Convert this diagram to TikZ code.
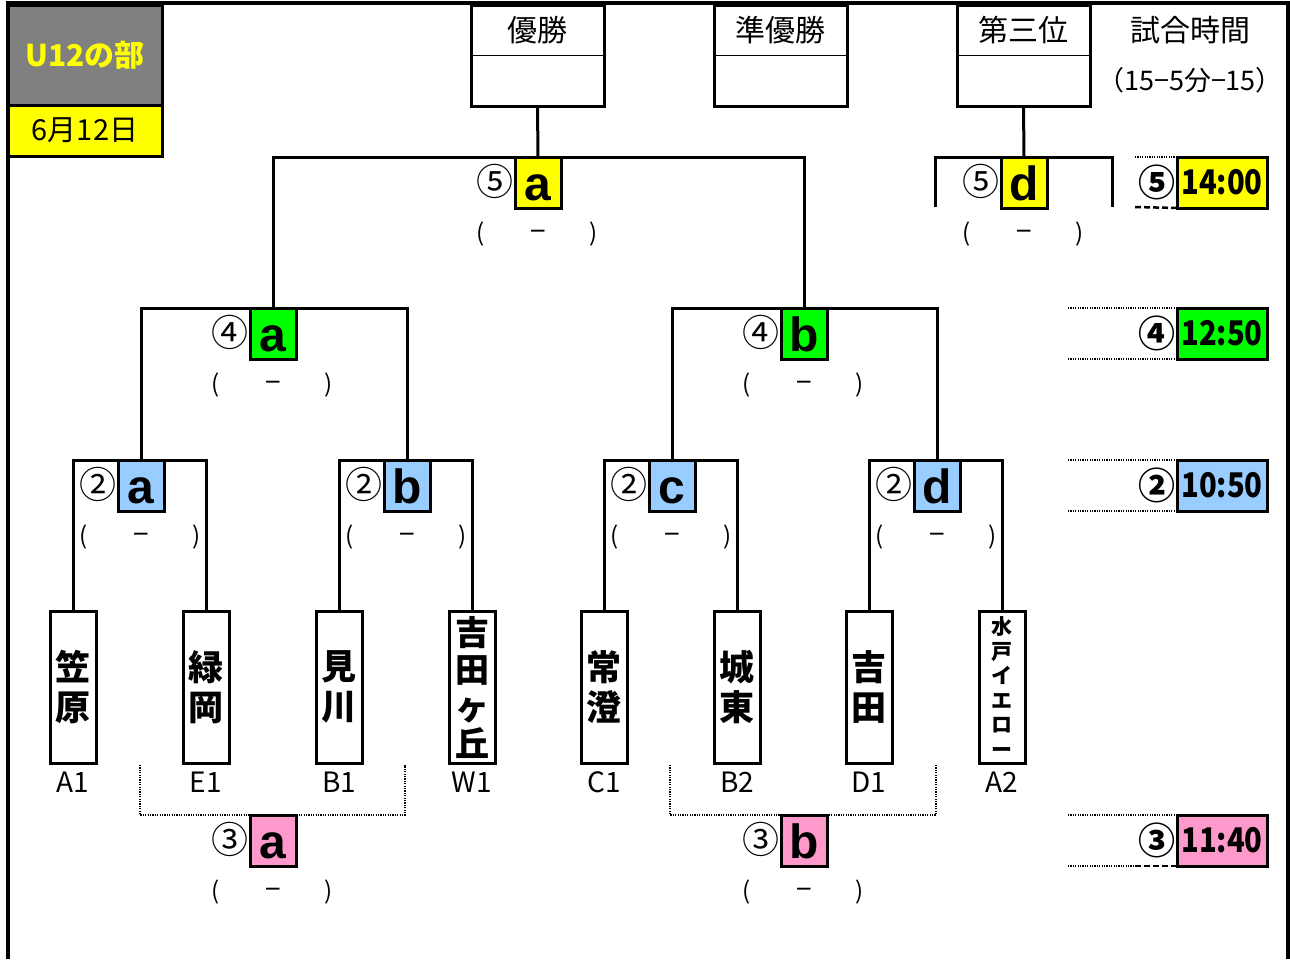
\documentclass[tikz,border=0pt]{standalone}
\usepackage{fontspec}
\newfontfamily\jp{Noto Sans CJK JP}
\newfontfamily\arl{Liberation Sans}
\usetikzlibrary{calc}
\definecolor{cyel}{HTML}{FFFF00}
\definecolor{cgrn}{HTML}{00FF00}
\definecolor{cblu}{HTML}{99CCFF}
\definecolor{cpnk}{HTML}{FF99CC}
\definecolor{cgry}{HTML}{808080}
\tikzset{
 ln/.style={line width=3pt},
 dotl/.style={line width=2.5pt, dash pattern=on 1.2pt off 1.2pt},
 dashl/.style={line width=2.5pt, dash pattern=on 6pt off 3pt},
 lbox/.style={draw, line width=3pt, minimum width=46pt, minimum height=51pt, inner sep=0pt, outer sep=0pt, anchor=north, text height=36pt, text depth=0pt, font=\arl\bfseries\fontsize{48}{48}\selectfont},
 circ/.style={inner sep=0pt, font=\jp\fontsize{37}{37}\selectfont},
 circb/.style={inner sep=0pt, font=\jp\bfseries\fontsize{37}{37}\selectfont},
 par/.style={inner sep=0pt, font=\jp\fontsize{24}{24}\selectfont},
 team/.style={draw, line width=3pt, minimum width=46pt, minimum height=152pt, inner sep=0pt, outer sep=0pt, anchor=north, align=center, font=\jp\bfseries\fontsize{35}{40}\selectfont},
 code/.style={inner sep=0pt, font=\jp\fontsize{28}{28}\selectfont},
 tbox/.style={draw, line width=3pt, minimum width=90pt, minimum height=51pt, inner sep=0pt, outer sep=0pt, anchor=north west, font=\jp\bfseries\fontsize{34}{34}\selectfont},
 topbox/.style={draw, line width=3pt, minimum width=133pt, minimum height=101pt, inner sep=0pt, outer sep=0pt, anchor=north west},
 toptxt/.style={inner sep=0pt, font=\jp\fontsize{30}{30}\selectfont},
 hdr/.style={draw, line width=3pt, minimum width=154pt, inner sep=0pt, outer sep=0pt, anchor=north west},
}
\newcommand\tm[1]{\scalebox{0.86}[1]{#1}}
\newcommand\matchlbl[6]{%
 \node[lbox, fill=#4] (#1) at (#2,#3) {#5};
 \node[circ] (#1n) at (#2-43,#3+24) {#6};
 \node[par] (#1l) at (#2-57,#3+77) {(};
 \node[par, font=\jp\fontsize{28}{28}\selectfont] (#1m) at (#2,#3+79) {−};
 \node[par] (#1r) at (#2+56,#3+77) {)};
}
\begin{document}
\begin{tikzpicture}[x=1pt,y=-1pt]
\useasboundingbox (0,0) rectangle (1290,959);
% frame
\draw[line width=3.5pt] (8,959) -- (8,3) -- (1288,3) -- (1288,959);
% header
\node[hdr, fill=cgry, minimum height=100pt, text=cyel, font=\jp\bfseries\fontsize{30}{30}\selectfont] (hd) at (8,5) {U12の部};
\node[hdr, fill=cyel, minimum height=51pt, font=\jp\fontsize{29}{29}\selectfont] (dt) at (8,105) {6月12日};
% top boxes
\node[topbox] (champ) at (471,5) {};
\node[topbox] (runner) at (714,5) {};
\node[topbox] (third) at (957,5) {};
\foreach \b/\t in {champ/優勝, runner/準優勝, third/第三位}{
  \draw[line width=1pt] ($(\b.north west)!0.5!(\b.south west)$) -- ($(\b.north east)!0.5!(\b.south east)$);
  \node[toptxt] at ($(\b.north)+(0,25)$) {\t};
}
\node[toptxt] (jikan) at (1190,30) {試合時間};
\node[inner sep=0pt, font=\jp\fontsize{27}{27}\selectfont] (rule) at (1190,80) {（15−5分−15）};
% teams
\node[team] (t1) at (73,611) {笠\\原};
\node[team] (t2) at (206,611) {緑\\岡};
\node[team] (t3) at (339,611) {見\\川};
\node[team, font=\jp\bfseries\fontsize{34}{37}\selectfont] (t4) at (472,611) {吉\\田\\ヶ\\丘};
\node[team] (t5) at (604,611) {常\\澄};
\node[team] (t6) at (737,611) {城\\東};
\node[team] (t7) at (869,611) {吉\\田};
\node[team, font=\jp\bfseries\fontsize{21}{24.5}\selectfont] (t8) at (1002,611) {水\\戸\\イ\\エ\\ロ\\ー};
\foreach \n/\c in {t1/A1, t2/E1, t3/B1, t4/W1, t5/C1, t6/B2, t7/D1, t8/A2}{
  \node[code] at ($(\n.south)+(0,19)$) {\c};
}
% matches
\matchlbl{m2a}{141}{460}{cblu}{a}{②}
\matchlbl{m2b}{407}{460}{cblu}{b}{②}
\matchlbl{m2c}{672}{460}{cblu}{c}{②}
\matchlbl{m2d}{937}{460}{cblu}{d}{②}
\matchlbl{m4a}{273}{308}{cgrn}{a}{④}
\matchlbl{m4b}{804}{308}{cgrn}{b}{④}
\matchlbl{m5a}{538}{157}{cyel}{a}{⑤}
\matchlbl{m5d}{1024}{157}{cyel}{d}{⑤}
\matchlbl{m3a}{273}{815}{cpnk}{a}{③}
\matchlbl{m3b}{804}{815}{cpnk}{b}{③}
% bracket lines
\draw[ln] (t1.north) |- (m2a.north) -| (t2.north);
\draw[ln] (t3.north) |- (m2b.north) -| (t4.north);
\draw[ln] (t5.north) |- (m2c.north) -| (t6.north);
\draw[ln] (t7.north) |- (m2d.north) -| (t8.north);
\draw[ln] (m2a.north) |- (m4a.north) -| (m2b.north);
\draw[ln] (m2c.north) |- (m4b.north) -| (m2d.north);
\draw[ln] (m4a.north) |- (m5a.north) -| (m4b.north);
\draw[ln] (m5a.north) -- (champ.south);
\coordinate (d5L) at (935,207);
\coordinate (d5R) at (1112,207);
\draw[ln] (d5L) |- (m5d.north) -| (d5R);
\draw[ln] (m5d.north) -- (third.south);
% third-place brackets (dotted)
\coordinate (a3L) at (140,765);
\coordinate (a3R) at (405,765);
\coordinate (b3L) at (670,765);
\coordinate (b3R) at (936,765);
\draw[dotl] (a3L) |- (m3a.north) -| (a3R);
\draw[dotl] (b3L) |- (m3b.north) -| (b3R);
% time column
\node[tbox, fill=cyel] (tm5) at (1177,157) {\tm{14:00}};
\node[tbox, fill=cgrn] (tm4) at (1177,308) {\tm{12:50}};
\node[tbox, fill=cblu] (tm2) at (1177,460) {\tm{10:50}};
\node[tbox, fill=cpnk] (tm3) at (1177,815) {\tm{11:40}};
\node[circb] (tn5) at (1157,182) {⑤};
\node[circb] (tn4) at (1157,333) {④};
\node[circb] (tn2) at (1157,485) {②};
\node[circb] (tn3) at (1157,840) {③};
\coordinate (q5a) at (1135,157);
\coordinate (q5b) at (1135,207);
\draw[dotl] (q5a) -- (tm5.north west);
\draw[dashl] (q5b) -- (tm5.south west);
\coordinate (q4a) at (1068,308);
\coordinate (q4b) at (1068,359);
\draw[dotl] (q4a) -- (tm4.north west);
\draw[dotl] (q4b) -- (tm4.south west);
\coordinate (q2a) at (1068,460);
\coordinate (q2b) at (1068,511);
\draw[dotl] (q2a) -- (tm2.north west);
\draw[dotl] (q2b) -- (tm2.south west);
\coordinate (q3a) at (1068,815);
\coordinate (q3b) at (1068,866);
\coordinate (q3c) at (1135,866);
\draw[dotl] (q3a) -- (tm3.north west);
\draw[dotl] (q3b) -- (q3c);
\draw[dashl] (q3c) -- (tm3.south west);
\end{tikzpicture}
\end{document}
